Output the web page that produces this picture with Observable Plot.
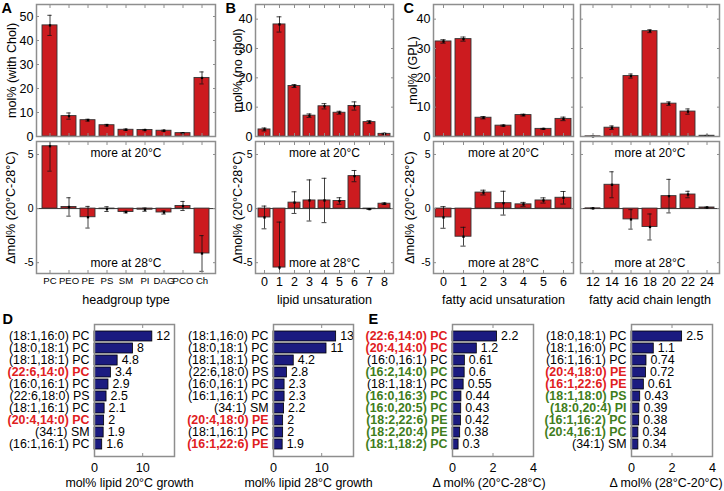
<!DOCTYPE html>
<html><head><meta charset="utf-8">
<script src="https://cdn.jsdelivr.net/npm/d3@7"></script>
<script src="https://cdn.jsdelivr.net/npm/@observablehq/plot@0.6"></script>
<style>
html,body{margin:0;padding:0;background:#fff;}
#chart{position:relative;width:724px;height:491px;overflow:hidden;background:#fff;}
</style></head><body><div id="chart"></div>
<script>
// ---------- data ----------
const headgroups = ["PC","PEO","PE","PS","SM","PI","DAG","PCO","Ch"];
const headgroupMol = [46.3, 8.5, 6.8, 4.7, 2.8, 2.7, 2.4, 1.4, 24.4];
const headgroupMolErr = [4.2, 1.3, 0.4, 0.35, 0.3, 0.25, 0.25, 0.25, 2.5];
const headgroupDelta = [5.76, 0.15, -0.8, -0.05, -0.32, -0.1, -0.36, 0.24, -4.15];
const headgroupDeltaErr = [2.3, 0.85, 1.0, 0.22, 0.08, 0.15, 0.15, 0.42, 1.65];

const unsatLevels = [0,1,2,3,4,5,6,7,8];
const unsatMol = [2.4, 38.2, 17.2, 7.1, 10.3, 8.1, 10.4, 4.9, 0.9];
const unsatMolErr = [0.5, 2.6, 0.5, 0.6, 0.9, 0.5, 1.4, 0.5, 0.2];
const unsatDelta = [-0.82, -5.45, 0.55, 0.75, 0.75, 0.7, 3.0, -0.05, 0.45];
const unsatDeltaErr = [1.05, 4.2, 1.0, 1.9, 2.05, 0.3, 0.52, 0.03, 0.07];

const faUnsatLevels = [0,1,2,3,4,5,6];
const faUnsatMol = [32.4, 33.2, 6.4, 3.7, 7.3, 2.6, 6.0];
const faUnsatMolErr = [0.6, 0.7, 0.4, 0.2, 0.3, 0.15, 0.6];
const faUnsatDelta = [-0.82, -2.6, 1.48, 0.5, 0.39, 0.75, 1.0];
const faUnsatDeltaErr = [1.0, 0.87, 0.22, 1.1, 0.18, 0.24, 0.58];

const chainLengths = [12,14,16,18,20,22,24];
const chainMol = [0.05, 3.0, 20.6, 35.9, 11.2, 8.5, 0.25];
const chainMolErr = [0.05, 0.6, 0.7, 0.5, 0.6, 0.9, 0.1];
const chainDelta = [0.02, 2.2, -1.0, -1.7, 1.15, 1.3, 0.1];
const chainDeltaErr = [0.03, 1.2, 0.9, 1.2, 1.55, 0.3, 0.03];

// group: 0 = plain, 1 = red (highlight), 2 = green
const top20Names = ["(18:1,16:0) PC","(18:0,18:1) PC","(18:1,18:1) PC","(22:6,14:0) PC","(16:0,16:1) PC","(22:6,18:0) PS","(18:1,16:1) PC","(20:4,14:0) PC","(34:1) SM","(16:1,16:1) PC"];
const top20Values = [12, 8, 4.8, 3.4, 2.9, 2.5, 2.1, 2, 1.9, 1.6];
const top20Groups = [0,0,0,1,0,0,0,1,0,0];

const top28Names = ["(18:1,16:0) PC","(18:0,18:1) PC","(18:1,18:1) PC","(22:6,18:0) PS","(16:0,16:1) PC","(16:1,16:1) PC","(34:1) SM","(20:4,18:0) PE","(18:1,16:1) PC","(16:1,22:6) PE"];
const top28Values = [13, 11, 4.2, 2.8, 2.3, 2.3, 2.2, 2, 2, 1.9];
const top28Groups = [0,0,0,0,0,0,0,1,0,1];

const diff2028Names = ["(22:6,14:0) PC","(20:4,14:0) PC","(16:0,16:1) PC","(16:2,14:0) PC","(18:1,18:1) PC","(16:0,16:3) PC","(16:0,20:5) PC","(18:2,22:6) PE","(18:2,20:4) PE","(18:1,18:2) PC"];
const diff2028Values = [2.2, 1.2, 0.61, 0.6, 0.55, 0.44, 0.43, 0.42, 0.38, 0.3];
const diff2028Groups = [1,1,0,2,0,2,2,2,2,2];

const diff2820Names = ["(18:0,18:1) PC","(18:1,16:0) PC","(16:1,16:1) PC","(20:4,18:0) PE","(16:1,22:6) PE","(18:1,18:0) PS","(18:0,20:4) PI","(16:1,16:2) PC","(20:4,16:1) PC","(34:1) SM"];
const diff2820Values = [2.5, 1.1, 0.74, 0.72, 0.61, 0.43, 0.39, 0.38, 0.34, 0.34];
const diff2820Groups = [0,0,0,1,1,2,2,2,2,0];

// ---------- drawing ----------
const RED = "#cc1b1f", NAVY = "#1b1b80", TXTRED = "#e0201e", TXTGREEN = "#3f7d1c", GRID = "#8e8e8e";
const FONT = '"Liberation Sans", Arial, Helvetica, sans-serif';
const chart = document.getElementById("chart");
const svgStyle = (fs) => ({fontFamily: FONT, fontSize: fs + "px", background: "transparent", overflow: "visible", maxWidth: "none"});

function mount(svg, left, top) {
  svg.style.position = "absolute";
  svg.style.left = left + "px";
  svg.style.top = top + "px";
  chart.appendChild(svg);
}

function vPanel(o) {
  const [x0, y0, x1, y1] = o.frame;
  const mL = 60, mR = 10, mT = 15, mB = 45;
  const n = o.cats.length, pi = 0.21, po = pi / 2;
  const step = (x1 - x0) / (n - pi + 2 * po);
  const bw = step * (1 - pi);
  const capInset = Math.max(0, (bw - 5) / 2);
  const data = o.cats.map((c, i) => ({c, v: o.vals[i], e: o.errs[i]}));
  const marks = [];
  if (o.zero) marks.push(Plot.ruleY([0], {stroke: "#333", strokeWidth: 1}));
  marks.push(
    Plot.barY(data, {x: "c", y: "v", fill: RED, stroke: "#333", strokeWidth: 0.9}),
    Plot.ruleX(data, {x: "c", y1: d => d.v - d.e, y2: d => d.v + d.e, stroke: "#111", strokeWidth: 0.8, clip: true}),
    Plot.tickY(data, {x: "c", y: d => d.v + d.e, stroke: "#111", strokeWidth: 0.8, insetLeft: capInset, insetRight: capInset, clip: true}),
    Plot.tickY(data, {x: "c", y: d => d.v - d.e, stroke: "#111", strokeWidth: 0.8, insetLeft: capInset, insetRight: capInset, clip: true}),
    Plot.dot(data, {x: "c", y: "v", r: 1.3, symbol: "square", fill: "#000", stroke: null}),
    Plot.axisY({anchor: "left", ticks: o.yTicks, tickSize: -3, tickPadding: 6, stroke: GRID, fontSize: o.yFont, label: null,
      tickFormat: o.yLabels ? d => String(d) : () => ""}),
    Plot.axisY({anchor: "right", ticks: o.yTicks, tickSize: -3, stroke: GRID, label: null, tickFormat: () => ""}),
    Plot.axisX({anchor: "top", tickSize: -3, stroke: GRID, label: null, tickFormat: () => ""}),
    Plot.axisX({anchor: "bottom", tickSize: -3, tickPadding: 7, stroke: GRID, label: null, fontSize: o.xFont,
      tickFormat: o.xLabels ? d => String(d) : () => ""}),
    Plot.frame({stroke: GRID, strokeWidth: 1.5})
  );
  if (o.yTitle) marks.push(Plot.text([o.yTitle], {text: d => d, frameAnchor: "left", rotate: -90, dx: o.yTitleDx,
    textAnchor: "middle", lineAnchor: "middle", fontSize: 12.6}));
  if (o.xTitle) marks.push(Plot.text([o.xTitle], {text: d => d, frameAnchor: "bottom", dy: 21.5, lineAnchor: "top", fontSize: 12.6}));
  if (o.notes) {
    marks.push(Plot.text(["more at 20°C"], {text: d => d, frameAnchor: "top", dy: 7, lineAnchor: "top", fontSize: 12}));
    marks.push(Plot.text(["more at 28°C"], {text: d => d, frameAnchor: "bottom", dy: -15, lineAnchor: "top", fontSize: 12}));
  }
  if (o.letter) marks.push(Plot.text([o.letter.text], {text: d => d, frameAnchor: "top-left", dx: o.letter.dx, dy: o.letter.dy,
    textAnchor: "start", lineAnchor: "top", fontWeight: "bold", fontSize: 14.5}));
  const svg = Plot.plot({
    width: mL + (x1 - x0) + mR, height: mT + (y1 - y0) + mB,
    marginLeft: mL, marginRight: mR, marginTop: mT, marginBottom: mB,
    x: {type: "band", domain: o.cats, paddingInner: pi, paddingOuter: po, align: 0.5},
    y: {domain: o.yDomain},
    style: svgStyle(12),
    marks
  });
  mount(svg, x0 - mL, y0 - mT);
}

function hPanel(o) {
  const [x0, y0, x1, y1] = o.frame;
  const mL = 110, mR = 20, mT = 15, mB = 40;
  const data = o.names.map((name, i) => ({name, v: o.vals[i], g: o.groups[i]}));
  const label = (filter, extra) => Plot.text(data.filter(filter), {y: "name", text: "name", frameAnchor: "left",
    textAnchor: "end", dx: -5, fontSize: 12.4, ...extra});
  const marks = [
    Plot.barX(data, {y: "name", x: "v", fill: NAVY, stroke: "#000", strokeWidth: 0.8}),
    label(d => d.g === 0, {}),
    label(d => d.g === 1, {fill: TXTRED, fontWeight: "bold"}),
    label(d => d.g === 2, {fill: TXTGREEN, fontWeight: "bold"}),
    Plot.text(data, {y: "name", x: "v", text: d => String(d.v), textAnchor: "start", dx: 4, fontSize: 12.4}),
    Plot.axisX({anchor: "bottom", ticks: o.xTicks, tickSize: -3, tickPadding: 9.7, stroke: GRID, label: null, fontSize: 12.6, tickFormat: d => String(d)}),
    Plot.axisX({anchor: "top", ticks: o.xTicks, tickSize: -3, stroke: GRID, label: null, tickFormat: () => ""}),
    Plot.frame({stroke: GRID, strokeWidth: 1.5}),
    Plot.text([o.xTitle], {text: d => d, frameAnchor: "bottom", dx: o.titleDx, dy: 22, lineAnchor: "top", fontSize: 12.4})
  ];
  if (o.letter) marks.push(Plot.text([o.letter.text], {text: d => d, frameAnchor: "top-left", dx: o.letter.dx, dy: o.letter.dy,
    textAnchor: "start", lineAnchor: "top", fontWeight: "bold", fontSize: 14.5}));
  const svg = Plot.plot({
    width: mL + (x1 - x0) + mR, height: mT + (y1 - y0) + mB,
    marginLeft: mL, marginRight: mR, marginTop: mT, marginBottom: mB,
    x: {domain: o.xDomain},
    y: {type: "band", domain: o.names, paddingInner: 0.2, paddingOuter: 0.57, axis: null},
    style: svgStyle(12.6),
    marks
  });
  mount(svg, x0 - mL, y0 - mT);
}

const TOP = [4, 136], BOT = [141, 273];
// Panel A
vPanel({cats: headgroups, vals: headgroupMol, errs: headgroupMolErr, frame: [36, TOP[0], 215, TOP[1]], yDomain: [0, 55],
  yTicks: [0,10,20,30,40,50], yLabels: true, yFont: 12.5, xLabels: false, yTitle: "mol% (with Chol)", yTitleDx: -24.5,
  letter: {text: "A", dx: -35, dy: -2}});
vPanel({cats: headgroups, vals: headgroupDelta, errs: headgroupDeltaErr, frame: [36, BOT[0], 215, BOT[1]], yDomain: [-6, 6.2],
  yTicks: [-5,0,5], yLabels: true, yFont: 10.5, xLabels: true, xFont: 9.6, yTitle: "Δmol% (20°C-28°C)", yTitleDx: -26,
  xTitle: "headgroup type", notes: true, zero: true});
// Panel B
vPanel({cats: unsatLevels, vals: unsatMol, errs: unsatMolErr, frame: [255, TOP[0], 393, TOP[1]], yDomain: [0, 45],
  yTicks: [0,10,20,30,40], yLabels: true, yFont: 12.5, xLabels: false, yTitle: "mol% (no chol)", yTitleDx: -17.5,
  letter: {text: "B", dx: -30, dy: -2}});
vPanel({cats: unsatLevels, vals: unsatDelta, errs: unsatDeltaErr, frame: [255, BOT[0], 393, BOT[1]], yDomain: [-6, 6.2],
  yTicks: [-5,0,5], yLabels: true, yFont: 10.5, xLabels: true, xFont: 12.5, yTitle: "Δmol% (20°C-28°C)", yTitleDx: -17.5,
  xTitle: "lipid unsaturation", notes: true, zero: true});
// Panel C
vPanel({cats: faUnsatLevels, vals: faUnsatMol, errs: faUnsatMolErr, frame: [433, TOP[0], 573, TOP[1]], yDomain: [0, 45],
  yTicks: [0,10,20,30,40], yLabels: true, yFont: 12.5, xLabels: false, yTitle: "mol% (GPL)", yTitleDx: -21,
  letter: {text: "C", dx: -30, dy: -2}});
vPanel({cats: faUnsatLevels, vals: faUnsatDelta, errs: faUnsatDeltaErr, frame: [433, BOT[0], 573, BOT[1]], yDomain: [-6, 6.2],
  yTicks: [-5,0,5], yLabels: true, yFont: 10.5, xLabels: true, xFont: 12.5, yTitle: "Δmol% (20°C-28°C)", yTitleDx: -24,
  xTitle: "fatty acid unsaturation", notes: true, zero: true});
vPanel({cats: chainLengths, vals: chainMol, errs: chainMolErr, frame: [580, TOP[0], 719, TOP[1]], yDomain: [0, 45],
  yTicks: [0,10,20,30,40], yLabels: false, xLabels: false});
vPanel({cats: chainLengths, vals: chainDelta, errs: chainDeltaErr, frame: [580, BOT[0], 719, BOT[1]], yDomain: [-6, 6.2],
  yTicks: [-5,0,5], yLabels: false, xLabels: true, xFont: 12.5, xTitle: "fatty acid chain length", notes: true, zero: true});
// Panel D
hPanel({names: top20Names, vals: top20Values, groups: top20Groups, frame: [94, 324, 174, 456], xDomain: [0, 16.6],
  xTicks: [0, 10], xTitle: "mol% lipid 20°C growth", titleDx: -5, letter: {text: "D", dx: -92, dy: -11}});
hPanel({names: top28Names, vals: top28Values, groups: top28Groups, frame: [273, 324, 353, 456], xDomain: [0, 16.6],
  xTicks: [0, 10], xTitle: "mol% lipid 28°C growth", titleDx: -5});
// Panel E
hPanel({names: diff2028Names, vals: diff2028Values, groups: diff2028Groups, frame: [452, 324, 533, 456], xDomain: [0, 4],
  xTicks: [0, 2, 4], xTitle: "Δ mol% (20°C-28°C)", titleDx: -4, letter: {text: "E", dx: -84, dy: -11}});
hPanel({names: diff2820Names, vals: diff2820Values, groups: diff2820Groups, frame: [631, 324, 712, 456], xDomain: [0, 4],
  xTicks: [0, 2, 4], xTitle: "Δ mol% (28°C-20°C)", titleDx: -6});
</script></body></html>
